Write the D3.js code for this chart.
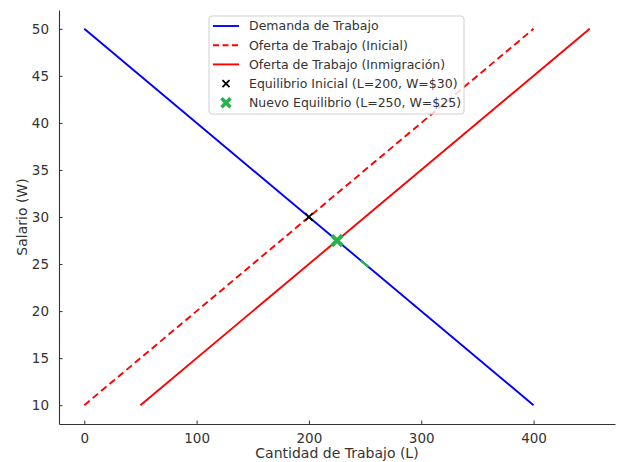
<!DOCTYPE html>
<html>
<head>
<meta charset="utf-8">
<script src="https://cdn.jsdelivr.net/npm/d3@7"></script>
<style>
  body { margin: 0; background: #fff; }
  text { font-family: "DejaVu Sans", sans-serif; fill: #333; }
</style>
</head>
<body>
<div id="chart"></div>
<script>
'use strict';

// data
const demanda = [[0, 50], [400, 10]]
const oferta_inicial = [[0, 10], [400, 50]]
const oferta_inmigracion = [[50, 10], [450, 50]]
const eq_inicial = [200, 30]
const eq_nuevo = [225, 27.5]
const green_seg = [[246, 25.4], [253, 24.7]]
const x_ticks = [0, 100, 200, 300, 400]
const y_ticks = [10, 15, 20, 25, 30, 35, 40, 45, 50]
const legend_items = [
  { label: 'Demanda de Trabajo', type: 'line', color: '#0000ff', dash: null },
  { label: 'Oferta de Trabajo (Inicial)', type: 'line', color: '#ff0000', dash: '6,3.5' },
  { label: 'Oferta de Trabajo (Inmigración)', type: 'line', color: '#ff0000', dash: null },
  { label: 'Equilibrio Inicial (L=200, W=$30)', type: 'x', color: '#000000' },
  { label: 'Nuevo Equilibrio (L=250, W=$25)', type: 'X', color: '#24b34a' },
]

const dimensions = {
  width: 622,
  height: 462,
  margin: { top: 10, bottom: 38, left: 59, right: 7 }
}
dimensions.ctrWidth = dimensions.width - dimensions.margin.left - dimensions.margin.right
dimensions.ctrHeight = dimensions.height - dimensions.margin.top - dimensions.margin.bottom

const svg = d3.select('#chart')
  .append('svg')
  .attr('width', dimensions.width)
  .attr('height', dimensions.height)

const ctr = svg.append('g')
  .attr('transform', `translate(${dimensions.margin.left}, ${dimensions.margin.top})`)

const xScale = d3.scaleLinear()
  .domain([-22.5, 472.5])
  .range([0, dimensions.ctrWidth])

const yScale = d3.scaleLinear()
  .domain([8, 52])
  .range([dimensions.ctrHeight, 0])

const line = d3.line()
  .x(d => xScale(d[0]))
  .y(d => yScale(d[1]))

// lines
ctr.append('path').datum(demanda)
  .attr('d', line).attr('fill', 'none')
  .attr('stroke', '#0000ff').attr('stroke-width', 1.9)
ctr.append('path').datum(oferta_inicial)
  .attr('d', line).attr('fill', 'none')
  .attr('stroke', '#ff0000').attr('stroke-width', 1.9)
  .attr('stroke-dasharray', '7,4')
ctr.append('path').datum(oferta_inmigracion)
  .attr('d', line).attr('fill', 'none')
  .attr('stroke', '#ff0000').attr('stroke-width', 1.9)
ctr.append('path').datum(green_seg)
  .attr('d', line).attr('fill', 'none')
  .attr('stroke', '#24b34a').attr('stroke-width', 2.2)

// markers
const drawX = function(g, cx, cy, r, color, w){
  g.append('path')
    .attr('d', `M${cx - r},${cy - r}L${cx + r},${cy + r}M${cx - r},${cy + r}L${cx + r},${cy - r}`)
    .attr('stroke', color)
    .attr('stroke-width', w)
    .attr('fill', 'none')
}
drawX(ctr, xScale(eq_inicial[0]), yScale(eq_inicial[1]), 3.8, '#000000', 1.8)
drawX(ctr, xScale(eq_nuevo[0]), yScale(eq_nuevo[1]), 5.2, '#24b34a', 4)

// axes
const xAxisGroup = ctr.append('g')
  .attr('transform', `translate(0, ${dimensions.ctrHeight})`)
  .call(d3.axisBottom(xScale).tickValues(x_ticks).tickSizeInner(-3.5).tickSizeOuter(0).tickPadding(9))
const yAxisGroup = ctr.append('g')
  .call(d3.axisLeft(yScale).tickValues(y_ticks).tickSizeInner(-3.5).tickSizeOuter(0).tickPadding(10))

svg.selectAll('.domain').attr('stroke', '#333').attr('stroke-width', 1.1)
svg.selectAll('.tick line').attr('stroke', '#333')
svg.selectAll('.tick text')
  .style('font-size', '13.5px')
  .style('font-family', '"DejaVu Sans", sans-serif')
  .attr('fill', '#333')

// axis titles
svg.append('text')
  .attr('x', dimensions.margin.left + xScale(225))
  .attr('y', 458)
  .style('text-anchor', 'middle')
  .style('font-size', '14px')
  .text('Cantidad de Trabajo (L)')

svg.append('text')
  .attr('transform', `translate(27, ${dimensions.margin.top + yScale(30)}) rotate(-90)`)
  .style('text-anchor', 'middle')
  .style('font-size', '14px')
  .text('Salario (W)')

// legend
const legend = svg.append('g').attr('transform', 'translate(209, 16)')
legend.append('rect')
  .attr('width', 255).attr('height', 98)
  .attr('rx', 3)
  .attr('fill', '#fff').attr('fill-opacity', 0.8)
  .attr('stroke', '#d0d0d0')

legend_items.forEach((d, i) => {
  const cy = 10 + i * 19.2
  if(d.type === 'line'){
    legend.append('line')
      .attr('x1', 4).attr('x2', 30).attr('y1', cy).attr('y2', cy)
      .attr('stroke', d.color).attr('stroke-width', 1.9)
      .attr('stroke-dasharray', d.dash)
  }else if(d.type === 'x'){
    drawX(legend, 17, cy, 3.5, d.color, 1.8)
  }else{
    drawX(legend, 17, cy, 4.5, d.color, 3.5)
  }
  legend.append('text')
    .attr('x', 40).attr('y', cy)
    .attr('dy', '0.35em')
    .style('font-size', '12.5px')
    .text(d.label)
})
</script>
</body>
</html>
